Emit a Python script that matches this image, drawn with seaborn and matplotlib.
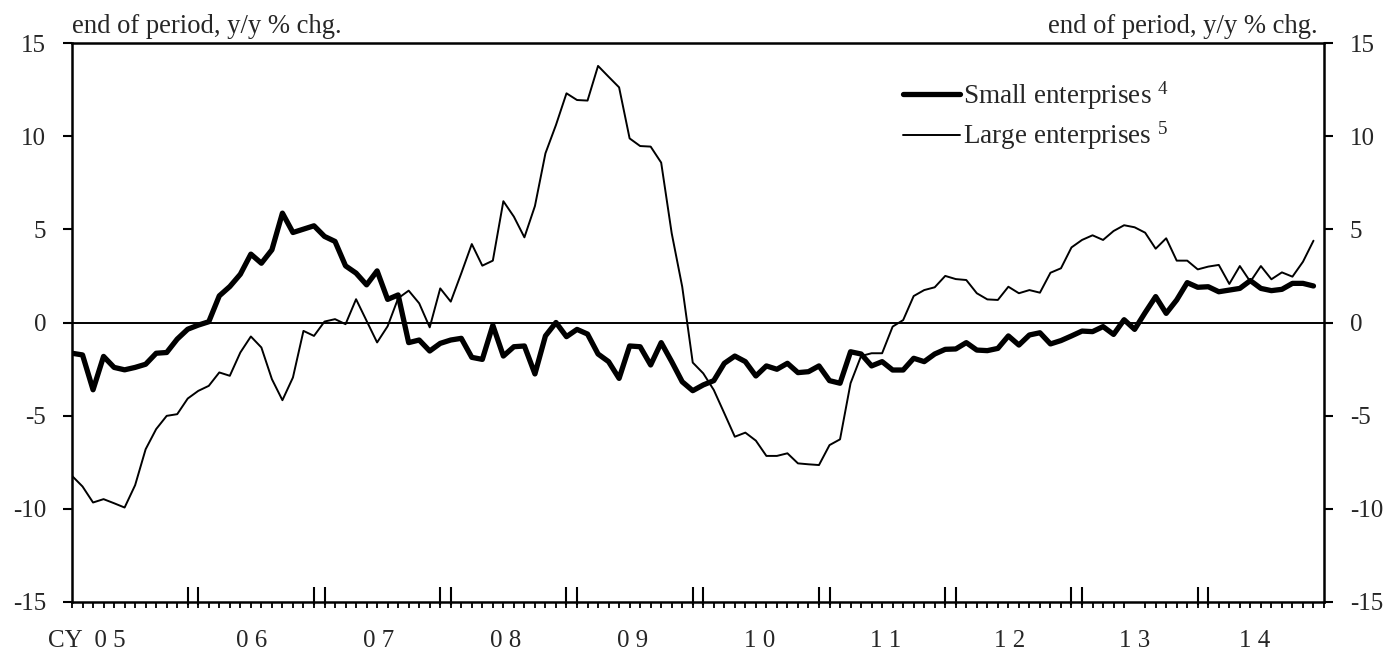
"""Loans outstanding by firm size: small vs large enterprises, y/y % change (CY05-CY14)."""

import matplotlib as mpl

mpl.use("Agg")

import matplotlib.pyplot as plt
import numpy as np
import pandas as pd
import seaborn as sns

sns.set_theme(style="ticks")
plt.rcParams["font.family"] = ["Liberation Serif", "DejaVu Serif"]
plt.rcParams["mathtext.fontset"] = "custom"
plt.rcParams["mathtext.rm"] = "Liberation Serif"
plt.rcParams["mathtext.it"] = "Liberation Serif:italic"
plt.rcParams["axes.unicode_minus"] = False

# monthly observations, Jan 2005 .. Nov 2014
SMALL = [
    -1.65, -1.74, -3.61, -1.82, -2.41, -2.54, -2.41, -2.24, -1.65, -1.61,
    -0.89, -0.36, -0.14, 0.04, 1.43, 1.93, 2.59, 3.67, 3.18, 3.90,
    5.87, 4.83, 5.01, 5.19, 4.62, 4.35, 3.04, 2.65, 2.02, 2.77,
    1.24, 1.48, -1.08, -0.94, -1.53, -1.12, -0.94, -0.85, -1.87, -1.98,
    -0.15, -1.80, -1.30, -1.26, -2.76, -0.72, 0.00, -0.76, -0.37, -0.62,
    -1.69, -2.10, -3.00, -1.26, -1.30, -2.28, -1.08, -2.10, -3.18, -3.66,
    -3.35, -3.12, -2.19, -1.80, -2.10, -2.87, -2.33, -2.51, -2.19, -2.69,
    -2.64, -2.33, -3.12, -3.26, -1.57, -1.69, -2.33, -2.10, -2.55, -2.55,
    -1.92, -2.10, -1.69, -1.44, -1.42, -1.08, -1.48, -1.51, -1.39, -0.72,
    -1.21, -0.67, -0.55, -1.15, -0.97, -0.72, -0.46, -0.49, -0.22, -0.64,
    0.15, -0.37, 0.53, 1.39, 0.49, 1.21, 2.14, 1.89, 1.92, 1.65,
    1.74, 1.83, 2.25, 1.83, 1.71, 1.78, 2.10, 2.10, 1.96,
]
LARGE = [
    -8.23, -8.80, -9.66, -9.48, -9.70, -9.93, -8.73, -6.80, -5.72, -5.01,
    -4.92, -4.08, -3.67, -3.40, -2.68, -2.86, -1.61, -0.75, -1.34, -3.04,
    -4.17, -2.95, -0.45, -0.72, 0.05, 0.18, -0.09, 1.25, 0.09, -1.07,
    -0.20, 1.30, 1.71, 1.03, -0.26, 1.83, 1.12, 2.64, 4.21, 3.05,
    3.32, 6.51, 5.68, 4.57, 6.25, 9.08, 10.60, 12.30, 11.94, 11.91,
    13.77, 13.19, 12.62, 9.88, 9.47, 9.44, 8.58, 4.79, 1.92, -2.15,
    -2.73, -3.62, -4.87, -6.13, -5.91, -6.34, -7.16, -7.16, -7.02, -7.56,
    -7.61, -7.65, -6.58, -6.27, -3.26, -1.80, -1.65, -1.65, -0.22, 0.13,
    1.42, 1.74, 1.89, 2.50, 2.33, 2.28, 1.57, 1.24, 1.21, 1.92,
    1.57, 1.74, 1.60, 2.67, 2.91, 4.03, 4.43, 4.68, 4.43, 4.91,
    5.22, 5.11, 4.82, 3.96, 4.52, 3.32, 3.32, 2.85, 3.00, 3.09,
    2.07, 3.03, 2.19, 3.03, 2.32, 2.69, 2.46, 3.26, 4.39,
]
MONTHS = np.arange(len(SMALL))

YEAR_LABELS = ["CY  0 5", "0 6", "0 7", "0 8", "0 9", "1 0", "1 1", "1 2", "1 3", "1 4"]
YEAR_LABEL_POS = [1.4, 17.1, 29.1, 41.2, 53.3, 65.4, 77.3, 89.1, 101.0, 112.4]
YEAR_BOUNDS = [m for y in range(1, 10) for m in (12 * y - 1, 12 * y)]

UNIT = "end of period, y/y % chg."
FS = 18

df = pd.DataFrame({"month": MONTHS, "small": SMALL, "large": LARGE})

fig = plt.figure(figsize=(13.87, 6.52), dpi=100)
ax = fig.add_axes([72 / 1387, 50 / 652, 1252 / 1387, 559 / 652])

sns.lineplot(data=df, x="month", y="small", color="black", linewidth=3.8,
             label="Small enterprises $^{4}$", ax=ax)
sns.lineplot(data=df, x="month", y="large", color="black", linewidth=1.4,
             label="Large enterprises $^{5}$", ax=ax)
ax.axhline(0, color="black", linewidth=1.4, zorder=1)

ax.set_xlim(0, 119)
ax.set_ylim(-15, 15)
ax.set_xlabel("")
ax.set_ylabel("")

ax.set_yticks(range(-15, 16, 5))
ax.tick_params(axis="y", which="major", direction="out", length=6.5, width=1.5,
               left=True, right=True, labelleft=True, labelright=True,
               labelsize=FS, pad=12, color="black")

ax.set_xticks(YEAR_LABEL_POS)
ax.set_xticklabels(YEAR_LABELS)
ax.set_xticks(np.arange(0, 120), minor=True)
ax.tick_params(axis="x", which="major", length=0, pad=20, labelsize=FS)
ax.tick_params(axis="x", which="minor", direction="out", length=4, width=1.3,
               color="black")
# taller double marks at each year boundary
ax.vlines(YEAR_BOUNDS, -0.005, 0.027, transform=ax.get_xaxis_transform(),
          colors="black", linewidth=1.5, clip_on=False)

for side in ["left", "right", "top", "bottom"]:
    ax.spines[side].set_visible(True)
    ax.spines[side].set_color("black")
    ax.spines[side].set_linewidth(1.8)

ax.text(0.0, 1.018, UNIT, transform=ax.transAxes, ha="left", va="baseline", fontsize=19.2)
ax.text(0.995, 1.018, UNIT, transform=ax.transAxes, ha="right", va="baseline", fontsize=19.2)

ax.legend(loc="upper left", bbox_to_anchor=(0.664, 0.935), frameon=False,
          handlelength=2.1, handletextpad=0.1, labelspacing=0.3,
          borderpad=0, borderaxespad=0, fontsize=19.5)

fig.savefig("out.png", dpi=100)
plt.close(fig)
